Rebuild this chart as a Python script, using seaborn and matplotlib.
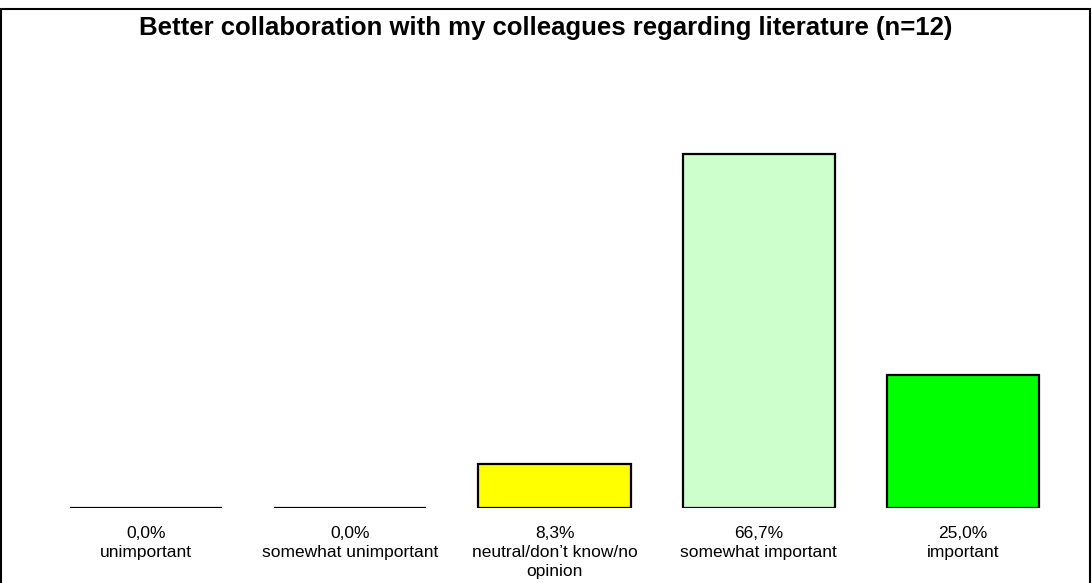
import matplotlib
matplotlib.use('Agg')
from matplotlib import pyplot as plt
from matplotlib.patches import Rectangle
import pandas as pd
import seaborn as sns

title = "Better collaboration with my colleagues regarding literature (n=12)"
categories = ["unimportant", "somewhat unimportant", "neutral/don\u2019t know/no\nopinion",
              "somewhat important", "important"]
percent = [0.0, 0.0, 8.3, 66.7, 25.0]
colors = ["#FF0000", "#FF9900", "#FFFF00", "#CCFFCC", "#00FF00"]

sns.set_style("white")
plt.rcParams['font.family'] = ['Liberation Sans', 'DejaVu Sans']
plt.rcParams['text.color'] = 'black'
plt.rcParams['xtick.color'] = 'black'

df = pd.DataFrame({"cat": categories, "pct": percent})

fig = plt.figure(figsize=(10.92, 5.83), dpi=100)
ax = fig.add_axes([44 / 1092, 1 - 508 / 583, (1065 - 44) / 1092, 425 / 583])

sns.barplot(data=df, x="cat", y="pct", hue="cat", palette=colors, legend=False, saturation=1,
            width=0.745, edgecolor="black", linewidth=1.6, ax=ax)

ax.set_xlim(-0.5, len(categories) - 0.5)
ax.set_ylim(0, 80)
labels = [f"{p:.1f}%".replace(".", ",") + "\n" + c for p, c in zip(percent, categories)]
ax.set_xticks(range(len(categories)))
ax.set_xticklabels(labels, fontsize=12.5, linespacing=1.35, color="black")
ax.tick_params(axis='x', length=0, pad=13)
ax.set_yticks([])
ax.set_xlabel("")
ax.set_ylabel("")
for s in ax.spines.values():
    s.set_visible(False)

fig.text(0.5, 1 - 28 / 583, title, ha="center", va="center", fontsize=18.5, fontweight="bold", color="black")

# outer frame like the original export
fig.patches.append(Rectangle((1 / 1092, -0.05), 1089 / 1092, 1.05 - 9 / 583, transform=fig.transFigure,
                             fill=False, edgecolor="black", linewidth=1.5, clip_on=False))

fig.savefig("out.png", dpi=100)
